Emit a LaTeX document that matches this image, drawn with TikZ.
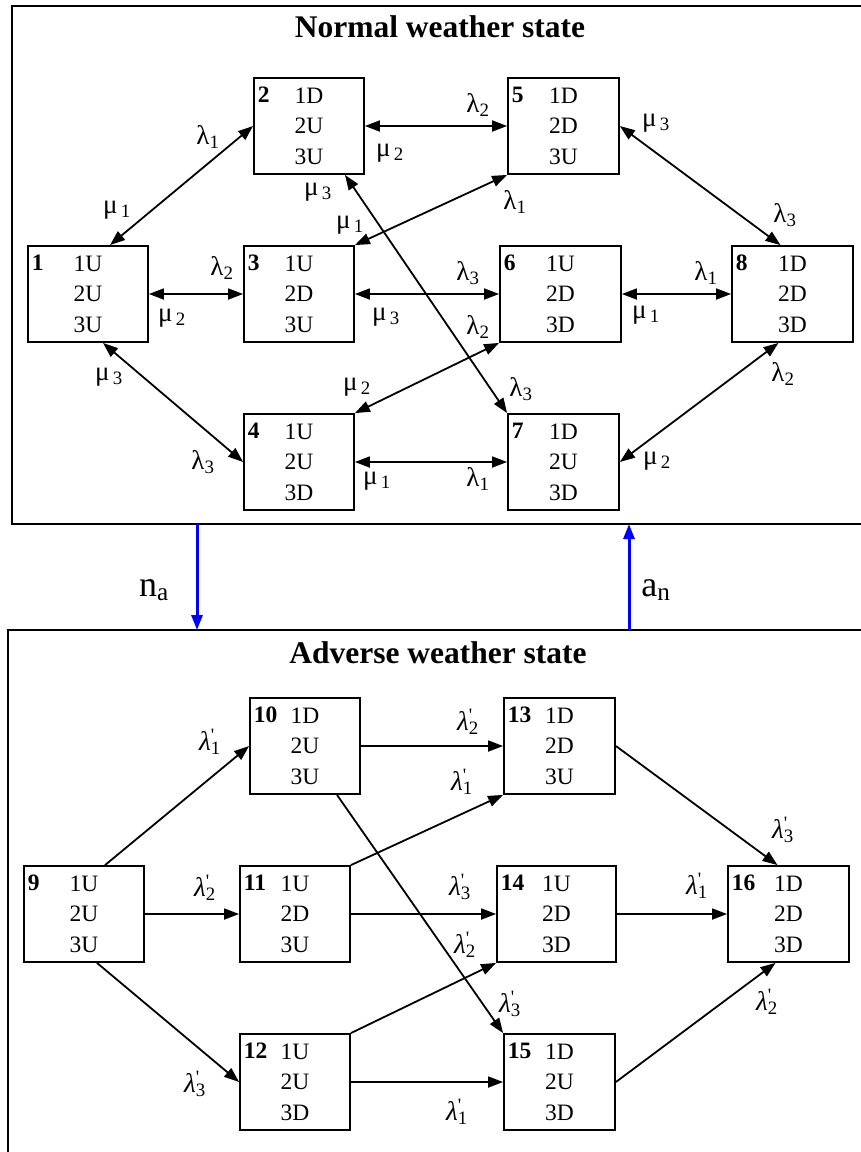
\documentclass[tikz,border=0pt]{standalone}
\usepackage{fontspec}
\setmainfont{Liberation Serif}
\usetikzlibrary{arrows.meta}
\newcommand{\lam}[1]{λ\textsubscript{#1}}
\newcommand{\mur}[1]{μ\textsubscript{\,#1}}
\newcommand{\lamp}[1]{\textit{λ}\rlap{\textsuperscript{\textquotesingle}}\textsubscript{#1}}
\tikzset{
  stbox/.style={draw, line width=1.8pt, minimum height=96pt, inner sep=0pt, align=center,
    font=\fontsize{23.5}{30.5}\selectfont},
  num/.style={anchor=base west, inner sep=0pt, font=\fontsize{23.5}{30.5}\selectfont\bfseries},
  rate/.style={inner sep=0pt, font=\fontsize{27}{30}\selectfont},
  ttl/.style={inner sep=0pt, font=\fontsize{31.5}{36}\selectfont\bfseries},
  twoway/.style={line width=1.8pt, {Triangle[length=15pt,width=11pt]}-{Triangle[length=15pt,width=11pt]}},
  oneway/.style={line width=1.8pt, -{Triangle[length=15pt,width=11pt]}},
  switch/.style={blue, line width=3pt, -{Triangle[length=15pt,width=11pt]}}
}
\begin{document}
\begin{tikzpicture}[x=1pt,y=-1pt]
\useasboundingbox (0,0) rectangle (861,1152);
\clip (0,0) rectangle (861,1152);
% the two weather states
\draw[line width=2.5pt] (12,6) rectangle (880,524);
\draw[line width=2.5pt] (8,630) rectangle (880,1170);
\node[ttl] (tnorm) at (440,27) {Normal weather state};
\node[ttl] (tadv) at (438,653) {Adverse weather state};
% system states
\foreach \n/\x/\y/\w/\a/\b/\c in {
   1/88/294/120/1U/2U/3U, 2/309/126/110/1D/2U/3U, 3/299/294/110/1U/2D/3U, 4/299/462/110/1U/2U/3D,
   5/563.5/126/111/1D/2D/3U, 6/560.5/294/121/1U/2D/3D, 7/563.5/462/111/1D/2U/3D, 8/792.5/294/121/1D/2D/3D,
   9/84/914/120/1U/2U/3U, 10/305/746/110/1D/2U/3U, 11/295/914/110/1U/2D/3U, 12/295/1082/110/1U/2U/3D,
   13/559.5/746/111/1D/2D/3U, 14/556.5/914/119/1U/2D/3D, 15/559.5/1082/111/1D/2U/3D, 16/788.5/914/121/1D/2D/3D}
{
  \node[stbox, minimum width=\w pt] (s\n) at (\x,\y) {\a\\\b\\\c};
  \node[num] (n\n) at ([xshift=4.5pt,yshift=-25pt]s\n.north west) {\n};
}
% normal weather transitions
\draw[twoway] ([xshift=22pt]s1.north) -- (s2.west);
\draw[twoway] (s2.east) -- (s5.west);
\draw[twoway] (s1.east) -- (s3.west);
\draw[twoway] (s3.east) -- (s6.west);
\draw[twoway] (s6.east) -- (s8.west);
\draw[twoway] (s4.east) -- (s7.west);
\draw[twoway] ([xshift=15pt]s1.south) -- (s4.west);
\draw[twoway] (s3.north east) -- (s5.south west);
\draw[twoway] (s4.north east) -- (s6.south west);
\draw[twoway] ([xshift=36pt]s2.south) -- (s7.north west);
\draw[twoway] (s5.east) -- ([xshift=-12pt]s8.north);
\draw[twoway] (s7.east) -- ([xshift=-14pt]s8.south);
\foreach \x/\y/\t [count=\i] in {
   208/137/\lam{1}, 117/210/\mur{1}, 478/105/\lam{2}, 390/153/\mur{2},
   318/192/\mur{3}, 350/225/\mur{1}, 515/202/\lam{1}, 656/123/\mur{3},
   785/215/\lam{3}, 222/268/\lam{2}, 468/273/\lam{3}, 706/273/\lam{1},
   172/318/\mur{2}, 386/317/\mur{3}, 646/315/\mur{1}, 478/327/\lam{2},
   521/389/\lam{3}, 783/374/\lam{2}, 109/377/\mur{3}, 357/387/\mur{2},
   203/462/\lam{3}, 377/481/\mur{1}, 478/479/\lam{1}, 657/461/\mur{2}}
  \node[rate] (r\i) at (\x,\y) {\t};
% adverse weather transitions
\draw[oneway] ([xshift=21pt]s9.north) -- (s10.west);
\draw[oneway] (s10.east) -- (s13.west);
\draw[oneway] (s9.east) -- (s11.west);
\draw[oneway] (s11.east) -- (s14.west);
\draw[oneway] (s14.east) -- (s16.west);
\draw[oneway] (s12.east) -- (s15.west);
\draw[oneway] ([xshift=13pt]s9.south) -- (s12.west);
\draw[oneway] (s11.north east) -- (s13.south west);
\draw[oneway] (s12.north east) -- (s14.south west);
\draw[oneway] ([xshift=32pt]s10.south) -- (s15.north west);
\draw[oneway] (s13.east) -- ([xshift=-11pt]s16.north);
\draw[oneway] (s15.east) -- ([xshift=-13pt]s16.south);
\foreach \x/\y/\t [count=\i] in {
   210/742/\lamp{1}, 468/722/\lamp{2}, 462/782/\lamp{1}, 783/830/\lamp{3},
   205/888/\lamp{2}, 460/887/\lamp{3}, 697/886/\lamp{1}, 465/945/\lamp{2},
   510/1004/\lamp{3}, 767/1002/\lamp{2}, 195/1084/\lamp{3}, 457/1112/\lamp{1}}
  \node[rate] (q\i) at (\x,\y) {\t};
% weather changes
\coordinate (na1) at (197,524);
\coordinate (na2) at (197,630);
\coordinate (an1) at (629,630);
\coordinate (an2) at (629,524);
\draw[switch] (na1) -- (na2);
\draw[switch] (an1) -- (an2);
\node[font=\fontsize{36}{40}\selectfont] (lna) at (154,590) {n\textsubscript{a}};
\node[font=\fontsize{36}{40}\selectfont] (lan) at (656,590) {a\textsubscript{n}};
\end{tikzpicture}
\end{document}
